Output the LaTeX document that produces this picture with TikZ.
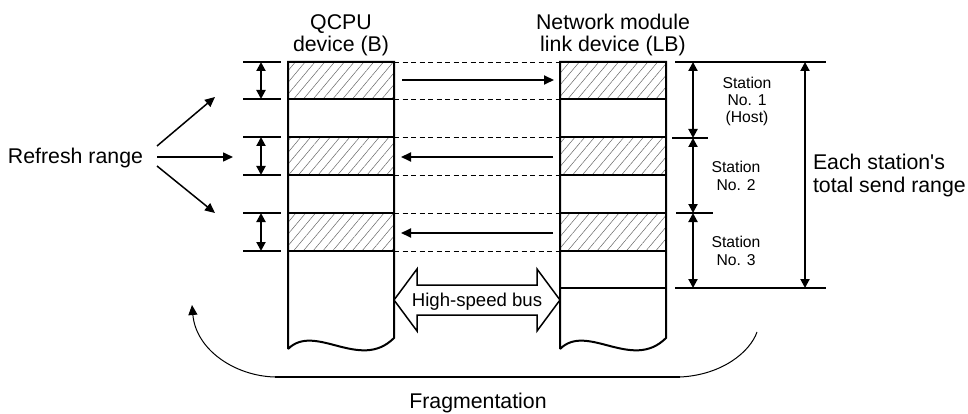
\documentclass[tikz,border=0pt]{standalone}
\usepackage{fontspec}
\setmainfont{Liberation Sans}[Ligatures=TeXOff]
\usetikzlibrary{arrows.meta,patterns.meta}
\begin{document}
\begin{tikzpicture}[x=1pt,y=-1pt,
  colline/.style={line width=2pt},
  thinline/.style={line width=1pt},
  dashline/.style={line width=0.9pt,dash pattern=on 5pt off 3.5pt},
  hatch/.style={pattern={Lines[angle=50,distance=7.5pt,line width=0.5pt]},pattern color=black!60},
  tip/.style={-{Triangle[length=10pt,width=9pt]}},
  dtip/.style={{Triangle[length=9pt,width=9pt]}-{Triangle[length=9pt,width=9pt]}},
  bigfont/.style={font=\fontsize{21.3}{22.5}\selectfont},
  smallfont/.style={font=\fontsize{15.7}{17.3}\selectfont},
  busfont/.style={font=\fontsize{18.6}{20}\selectfont},
  txt/.style={inner sep=0pt,outer sep=0pt}]
\useasboundingbox (0,0) rectangle (968,414);

% hatched rows
\foreach \ya/\yb in {62/99,137/175,213/251}{
  \fill[hatch] (288,\ya) rectangle (394,\yb);
  \fill[hatch] (560,\ya) rectangle (666,\yb);
}

% left column (QCPU)
\draw[colline,line join=miter] (288,349) -- (288,62) -- (394,62) -- (394,338)
  .. controls (360,372) and (315,322) .. (288,349);
\foreach \y in {99,137,175,213,251}{\draw[colline] (288,\y) -- (394,\y);}

% right column (LB)
\draw[colline,line join=miter] (560,349) -- (560,62) -- (666,62) -- (666,338)
  .. controls (632,372) and (587,322) .. (560,349);
\foreach \y in {99,137,175,213,251,288}{\draw[colline] (560,\y) -- (666,\y);}

% dashed links
\foreach \y in {62,99,137,175,213,251}{\draw[dashline] (394,\y) -- (560,\y);}

% transfer arrows
\coordinate (a1s) at (402,80);  \coordinate (a1e) at (554,80);
\coordinate (a2s) at (553,157); \coordinate (a2e) at (401,157);
\coordinate (a3s) at (553,233); \coordinate (a3e) at (401,233);
\draw[colline,tip] (a1s) -- (a1e);
\draw[colline,tip] (a2s) -- (a2e);
\draw[colline,tip] (a3s) -- (a3e);

% left refresh-range markers
\foreach \y in {62,99,137,175,213,251}{\draw[colline] (243,\y) -- (281,\y);}
\coordinate (r1t) at (261,62);  \coordinate (r1b) at (261,99);
\coordinate (r2t) at (261,137); \coordinate (r2b) at (261,175);
\coordinate (r3t) at (261,213); \coordinate (r3b) at (261,251);
\draw[colline,dtip] (r1t) -- (r1b);
\draw[colline,dtip] (r2t) -- (r2b);
\draw[colline,dtip] (r3t) -- (r3b);

% Refresh range label and arrows
\node[txt,bigfont,anchor=base west] (refresh) at (8,164) {Refresh range};
\coordinate (ra) at (157,146); \coordinate (raE) at (215,97);
\coordinate (rb) at (157,157); \coordinate (rbE) at (233,157);
\coordinate (rc) at (157,166); \coordinate (rcE) at (215,213);
\draw[line width=1.5pt,tip] (ra) -- (raE);
\draw[line width=1.5pt,tip] (rb) -- (rbE);
\draw[line width=1.5pt,tip] (rc) -- (rcE);

% right station markers
\draw[colline] (675,62) -- (826,62);
\draw[colline] (672,138) -- (708,138);
\draw[colline] (676,213) -- (713,213);
\draw[colline] (675,288) -- (826,288);
\coordinate (s0) at (693,62); \coordinate (s1) at (693,138);
\coordinate (s2) at (693,213); \coordinate (s3) at (693,288);
\draw[colline,dtip] (s0) -- (s1);
\draw[colline,dtip] (s1) -- (s2);
\draw[colline,dtip] (s2) -- (s3);
\coordinate (tt) at (805,62); \coordinate (tb) at (805,288);
\draw[colline,dtip] (tt) -- (tb);

% headers
\node[txt,bigfont,align=center,anchor=base] (qcpu) at (341,52) {QCPU\\device (B)};
\node[txt,bigfont,align=center,anchor=base] (lb) at (613,52) {Network module\\link device (LB)};

% station labels
\node[txt,smallfont,align=center,anchor=base] (st1) at (747,123) {Station\\No. 1\\(Host)};
\node[txt,smallfont,align=center,anchor=base] (st2) at (736,190) {Station\\No. 2};
\node[txt,smallfont,align=center,anchor=base] (st3) at (736,265) {Station\\No. 3};
\node[txt,bigfont,align=left,anchor=base west] (each) at (813,192) {Each station's\\total send range};

% high-speed bus
\draw[line width=1.5pt,fill=white,line join=miter] (394,300) -- (417,269) -- (417,285) -- (537,285) -- (537,269)
  -- (560,300) -- (537,331) -- (537,315) -- (417,315) -- (417,331) -- cycle;
\node[txt,busfont,anchor=base] (bus) at (477,306) {High-speed bus};

% fragmentation
\coordinate (fl) at (275,377); \coordinate (fr) at (680,377);
\coordinate (ftip) at (192,305); \coordinate (fend) at (757,332);
\draw[line width=1.5pt] (fl) -- (fr);
\draw[thinline,tip] (fl) .. controls (235,376) and (196,350) .. (ftip);
\draw[thinline] (fr) .. controls (722,375) and (750,352) .. (fend);
\node[txt,bigfont,anchor=base] (frag) at (478,408) {Fragmentation};
\end{tikzpicture}
\end{document}
